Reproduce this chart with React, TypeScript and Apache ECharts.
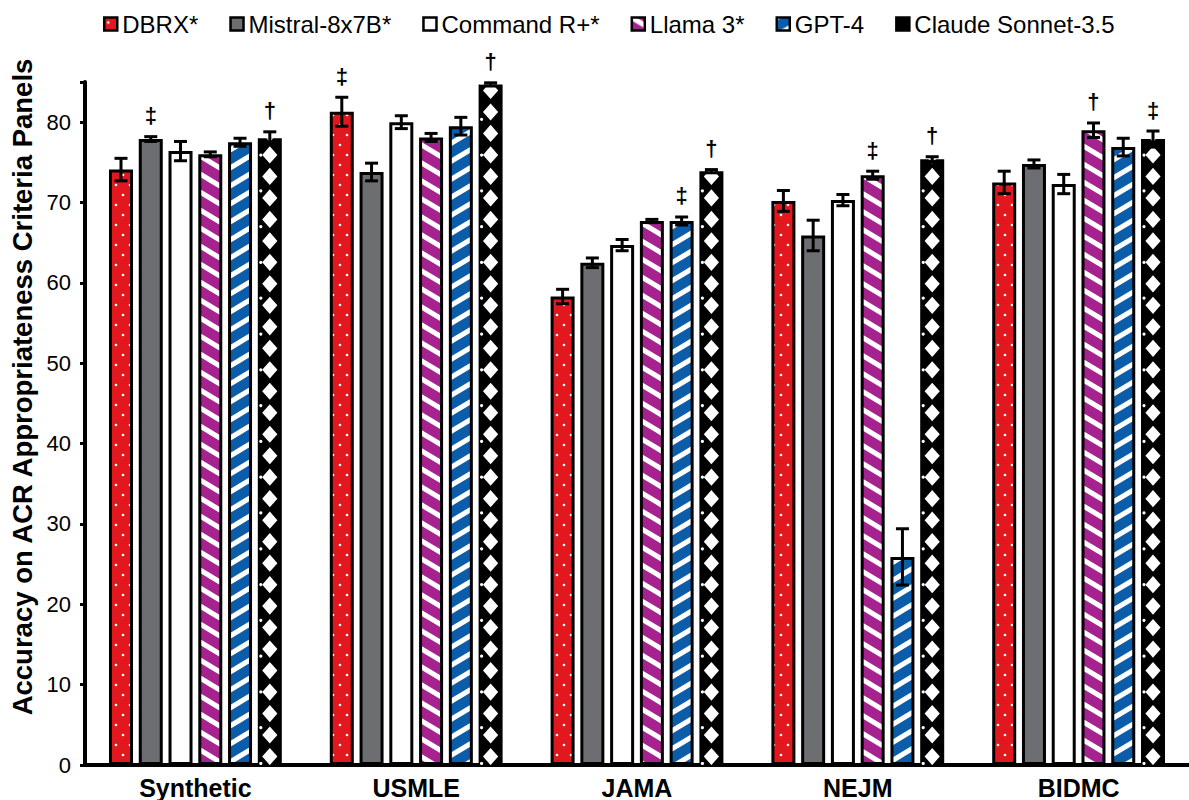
import React, { useEffect, useRef } from "react";
import * as echarts from "echarts";

const categories = ["Synthetic", "USMLE", "JAMA", "NEJM", "BIDMC"];
const models = ["DBRX*", "Mistral-8x7B*", "Command R+*", "Llama 3*", "GPT-4", "Claude Sonnet-3.5"];

const dbrx = [74.1, 81.3, 58.3, 70.2, 72.5];
const dbrxErr = [1.4, 1.8, 0.9, 1.3, 1.4];
const mistral = [77.9, 73.8, 62.5, 65.9, 74.8];
const mistralErr = [0.3, 1.1, 0.6, 1.9, 0.5];
const commandR = [76.4, 80.0, 64.7, 70.3, 72.3];
const commandRErr = [1.2, 0.8, 0.7, 0.7, 1.2];
const llama = [76.0, 78.1, 67.7, 73.4, 79.0];
const llamaErr = [0.3, 0.5, 0.2, 0.5, 0.9];
const gpt4 = [77.5, 79.5, 67.7, 25.9, 76.9];
const gpt4Err = [0.5, 1.1, 0.5, 3.5, 1.1];
const claude = [78.0, 84.7, 73.9, 75.4, 77.9];
const claudeErr = [0.8, 0.2, 0.2, 0.3, 1.0];

const dbrxMarks = ["", "‡", "", "", ""];
const mistralMarks = ["‡", "", "", "", ""];
const commandRMarks = ["", "", "", "", ""];
const llamaMarks = ["", "", "", "‡", "†"];
const gpt4Marks = ["", "", "‡", "", ""];
const claudeMarks = ["†", "†", "†", "†", "‡"];

const yAxisMin = 0;
const yAxisMax = 85;
const yAxisInterval = 10;
const yAxisTitle = "Accuracy on ACR Appropriateness Criteria Panels";

const BAR_W = 24;
const BAR_GAP = 0.24;
const PITCH = BAR_W * (1 + BAR_GAP);
const FONT = "'Liberation Sans', Arial, Helvetica, sans-serif";

function makePattern(w: number, h: number, draw: (ctx: CanvasRenderingContext2D) => void) {
  const c = document.createElement("canvas");
  c.width = w;
  c.height = h;
  const ctx = c.getContext("2d")!;
  draw(ctx);
  return { image: c.toDataURL(), repeat: "repeat", imageWidth: w, imageHeight: h } as any;
}

function stripes(bg: string, dir: 1 | -1) {
  const w = 30;
  const h = 18;
  return makePattern(w, h, (ctx) => {
    ctx.fillStyle = bg;
    ctx.fillRect(0, 0, w, h);
    ctx.strokeStyle = "#ffffff";
    ctx.lineWidth = 5;
    for (let k = -1; k <= 1; k++) {
      ctx.beginPath();
      if (dir === 1) {
        ctx.moveTo(-w, -h + k * h);
        ctx.lineTo(2 * w, 2 * h + k * h);
      } else {
        ctx.moveTo(-w, 2 * h + k * h);
        ctx.lineTo(2 * w, -h + k * h);
      }
      ctx.stroke();
    }
  });
}

export default function App() {
  const ref = useRef<HTMLDivElement>(null);

  useEffect(() => {
    if (!ref.current) return;
    const chart = echarts.init(ref.current, null, { renderer: "svg" });

    const dots = makePattern(14, 20, (ctx) => {
      ctx.fillStyle = "#e3181f";
      ctx.fillRect(0, 0, 14, 20);
      ctx.fillStyle = "#ffffff";
      ctx.beginPath();
      ctx.arc(4, 5, 1.3, 0, Math.PI * 2);
      ctx.fill();
      ctx.beginPath();
      ctx.arc(11, 15, 1.3, 0, Math.PI * 2);
      ctx.fill();
    });
    const llamaPat = stripes("#a6228f", 1);
    const gptPat = stripes("#0b5ca9", -1);

    const values = [dbrx, mistral, commandR, llama, gpt4, claude];
    const errs = [dbrxErr, mistralErr, commandRErr, llamaErr, gpt4Err, claudeErr];
    const marks = [dbrxMarks, mistralMarks, commandRMarks, llamaMarks, gpt4Marks, claudeMarks];
    const fills: any[] = [dots, "#6d6e71", "#ffffff", llamaPat, gptPat, "#000000"];

    const barSeries = models.map((name, i) => ({
      name,
      type: "bar",
      data: values[i],
      barWidth: BAR_W,
      barGap: `${BAR_GAP * 100}%`,
      itemStyle: { color: fills[i], borderColor: "#000", borderWidth: 3 },
      z: 2,
    }));

    const errItems: { cat: number; s: number; v: number; e: number; m: string }[] = [];
    models.forEach((_, s) => {
      categories.forEach((__, c) => {
        errItems.push({ cat: c, s, v: values[s][c], e: errs[s][c], m: marks[s][c] });
      });
    });

    const option: any = {
      animation: false,
      backgroundColor: "#ffffff",
      textStyle: { fontFamily: FONT },
      legend: {
        data: models,
        left: 98,
        top: 7,
        itemWidth: 13,
        itemHeight: 13,
        itemGap: 31,
        icon: "rect",
        itemStyle: { borderColor: "#000", borderWidth: 2.5 },
        textStyle: { fontSize: 24, color: "#000", fontFamily: FONT },
      },
      grid: { left: 85, top: 82, width: 1113, height: 683, containLabel: false },
      xAxis: {
        type: "category",
        data: categories,
        axisLine: { lineStyle: { color: "#000", width: 4 } },
        axisTick: { show: false },
        axisLabel: { color: "#000", fontSize: 25, fontWeight: "bold", margin: 10, fontFamily: FONT },
      },
      yAxis: {
        type: "value",
        min: yAxisMin,
        max: yAxisMax,
        interval: yAxisInterval,
        axisLine: { show: true, lineStyle: { color: "#000", width: 4 } },
        axisTick: { show: true, length: 5, lineStyle: { color: "#000", width: 3 } },
        splitLine: { show: false },
        axisLabel: {
          color: "#000",
          fontSize: 22,
          margin: 14,
          fontFamily: FONT,
          formatter: (v: number) => (v <= 80 ? String(v) : ""),
        },
      },
      graphic: [
        {
          type: "text",
          x: 22,
          y: 387,
          rotation: Math.PI / 2,
          style: {
            text: yAxisTitle,
            textAlign: "center",
            textVerticalAlign: "middle",
            font: `bold 27.5px ${FONT}`,
            fill: "#000",
          },
        },
      ],
      series: [
        ...barSeries,
        {
          name: "claudeDiamonds",
          type: "pictorialBar",
          data: claude,
          symbol: "diamond",
          symbolRepeat: true,
          symbolSize: [15, 17],
          symbolMargin: 2.5,
          symbolClip: true,
          symbolOffset: [PITCH * 2.5, 0],
          itemStyle: { color: "#ffffff" },
          z: 3,
          silent: true,
        },
        {
          name: "claudeDots",
          type: "pictorialBar",
          data: claude,
          symbol: "circle",
          symbolRepeat: true,
          symbolSize: [3, 3],
          symbolMargin: 16.5,
          symbolClip: true,
          symbolOffset: [PITCH * 2.5 - 9, 0],
          itemStyle: { color: "#ffffff" },
          z: 3,
          silent: true,
        },
        {
          name: "errors",
          type: "custom",
          coordinateSystem: "cartesian2d",
          z: 5,
          silent: true,
          data: errItems.map((d) => [d.cat, d.v]),
          encode: { x: 0, y: 1 },
          renderItem: (params: any, api: any) => {
            const d = errItems[params.dataIndex];
            const base = api.coord([d.cat, d.v]);
            const x = base[0] + (d.s - 2.5) * PITCH;
            const top = api.coord([d.cat, d.v + d.e])[1];
            const bot = api.coord([d.cat, d.v - d.e])[1];
            const cap = 6.5;
            const ls = { stroke: "#000", lineWidth: 3 };
            const children: any[] = [
              { type: "line", shape: { x1: x, y1: top, x2: x, y2: bot }, style: ls },
              { type: "line", shape: { x1: x - cap, y1: top, x2: x + cap, y2: top }, style: ls },
              { type: "line", shape: { x1: x - cap, y1: bot, x2: x + cap, y2: bot }, style: ls },
            ];
            if (d.m) {
              children.push({
                type: "text",
                x,
                y: top - 10,
                style: {
                  text: d.m,
                  textAlign: "center",
                  textVerticalAlign: "bottom",
                  font: `bold 22px ${FONT}`,
                  fill: "#000",
                },
              });
            }
            return { type: "group", children };
          },
        },
      ],
    };

    chart.setOption(option);
    return () => chart.dispose();
  }, []);

  return (
    <div
      ref={ref}
      style={{ position: "fixed", left: 0, top: 0, width: 1189, height: 800, background: "#fff" }}
    />
  );
}
